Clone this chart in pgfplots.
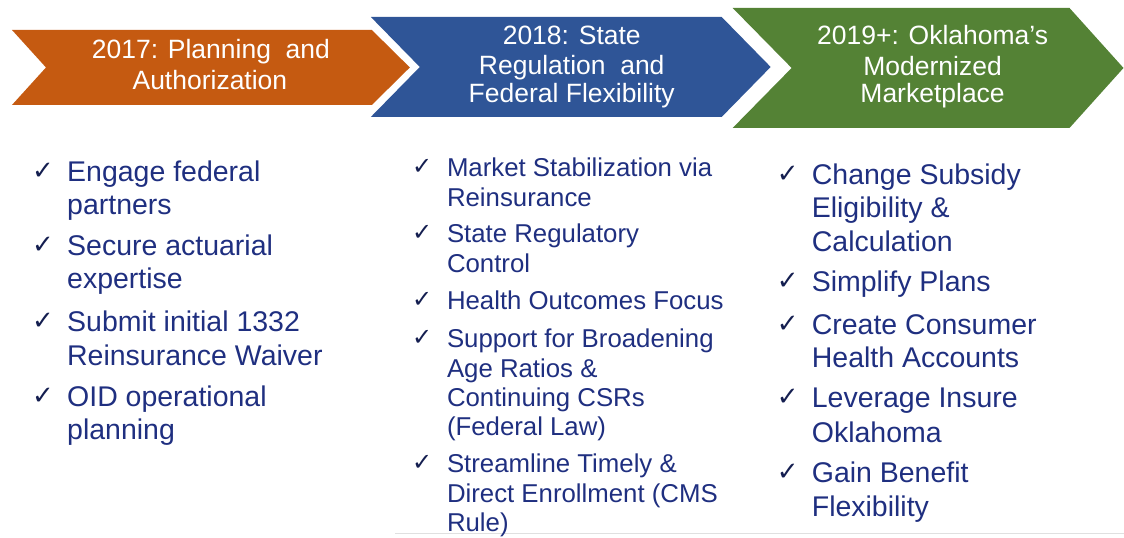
\documentclass[border=0pt]{standalone}
\usepackage{pgfplots}
\pgfplotsset{compat=1.18}
\usepackage{fontspec}
\setmainfont{Liberation Sans}
\newfontfamily\dejavu{DejaVu Sans}
\definecolor{corange}{HTML}{C55A11}
\definecolor{cblue}{HTML}{2F5597}
\definecolor{cgreen}{HTML}{548235}
\definecolor{navy}{HTML}{1F2F80}
\definecolor{chk}{HTML}{141E50}
\newcommand{\ck}{{\dejavu\bfseries ✓}}
\begin{document}
\begin{tikzpicture}
\begin{axis}[width=1124pt,height=536pt,scale only axis,
  xmin=0,xmax=1124,ymin=0,ymax=536,y dir=reverse,hide axis,clip=false]
\addplot[draw=none,fill=none] coordinates {(0,0) (1124,0) (1124,536) (0,536)} --cycle;
% arrows
\addplot[fill=corange,draw=none] coordinates {(12,30) (372,30) (410,67.5) (372,105) (12,105) (46,67.5)} --cycle;
\addplot[fill=cblue,draw=none] coordinates {(371,17) (722,17) (771,67) (722,117) (371,117) (420,67)} --cycle;
\addplot[fill=cgreen,draw=none] coordinates {(733,8) (1070,8) (1124,68) (1070,128) (733,128) (792,68)} --cycle;
\addplot[draw=black!12,line width=1pt] coordinates {(395,534) (1124,534)};
% headers
\begin{scope}[every node/.style={anchor=base,inner sep=0,text=white,font=\fontsize{26.5}{30}\selectfont}]
\node at (axis cs:211,59) {2017: Planning\ \ and};
\node at (axis cs:210,90) {Authorization};
\node at (axis cs:572,45) {2018: State};
\node at (axis cs:572,75) {Regulation\ \ and};
\node at (axis cs:572,103) {Federal Flexibility};
\node at (axis cs:933,45) {2019+: Oklahoma’s};
\node at (axis cs:933,76) {Modernized};
\node at (axis cs:933,103) {Marketplace};
\end{scope}
% column 1
\begin{scope}[every node/.style={anchor=base west,inner sep=0,text=navy,font=\fontsize{28.5}{33}\selectfont}]
\node[text=chk,font=\fontsize{26}{28}\selectfont] at (axis cs:32,180) {\ck};
\node at (axis cs:67,182) {Engage federal};
\node at (axis cs:67,215) {partners};
\node[text=chk,font=\fontsize{26}{28}\selectfont] at (axis cs:32,254) {\ck};
\node at (axis cs:67,256) {Secure actuarial};
\node at (axis cs:67,289) {expertise};
\node[text=chk,font=\fontsize{26}{28}\selectfont] at (axis cs:32,330) {\ck};
\node at (axis cs:67,332) {Submit initial 1332};
\node at (axis cs:67,366) {Reinsurance Waiver};
\node[text=chk,font=\fontsize{26}{28}\selectfont] at (axis cs:32,405) {\ck};
\node at (axis cs:67,407) {OID operational};
\node at (axis cs:67,440) {planning};
\end{scope}
% column 2
\begin{scope}[every node/.style={anchor=base west,inner sep=0,text=navy,font=\fontsize{25.8}{30}\selectfont}]
\node[text=chk,font=\fontsize{24}{26}\selectfont] at (axis cs:412,175) {\ck};
\node at (axis cs:447,177) {Market Stabilization via};
\node at (axis cs:447,207) {Reinsurance};
\node[text=chk,font=\fontsize{24}{26}\selectfont] at (axis cs:412,241) {\ck};
\node at (axis cs:447,243) {State Regulatory};
\node at (axis cs:447,273) {Control};
\node[text=chk,font=\fontsize{24}{26}\selectfont] at (axis cs:412,308) {\ck};
\node at (axis cs:447,310) {Health Outcomes Focus};
\node[text=chk,font=\fontsize{24}{26}\selectfont] at (axis cs:412,346) {\ck};
\node at (axis cs:447,348) {Support for Broadening};
\node at (axis cs:447,378) {Age Ratios \&};
\node at (axis cs:447,407) {Continuing CSRs};
\node at (axis cs:447,436) {(Federal Law)};
\node[text=chk,font=\fontsize{24}{26}\selectfont] at (axis cs:412,471) {\ck};
\node at (axis cs:447,473) {Streamline Timely \&};
\node at (axis cs:447,503) {Direct Enrollment (CMS};
\node at (axis cs:447,532) {Rule)};
\end{scope}
% column 3
\begin{scope}[every node/.style={anchor=base west,inner sep=0,text=navy,font=\fontsize{28.5}{33}\selectfont}]
\node[text=chk,font=\fontsize{26}{28}\selectfont] at (axis cs:777,183) {\ck};
\node at (axis cs:812,185) {Change Subsidy};
\node at (axis cs:812,218) {Eligibility \&};
\node at (axis cs:812,252) {Calculation};
\node[text=chk,font=\fontsize{26}{28}\selectfont] at (axis cs:777,290) {\ck};
\node at (axis cs:812,292) {Simplify Plans};
\node[text=chk,font=\fontsize{26}{28}\selectfont] at (axis cs:777,333) {\ck};
\node at (axis cs:812,335) {Create Consumer};
\node at (axis cs:812,368) {Health Accounts};
\node[text=chk,font=\fontsize{26}{28}\selectfont] at (axis cs:777,406) {\ck};
\node at (axis cs:812,408) {Leverage Insure};
\node at (axis cs:812,443) {Oklahoma};
\node[text=chk,font=\fontsize{26}{28}\selectfont] at (axis cs:777,481) {\ck};
\node at (axis cs:812,483) {Gain Benefit};
\node at (axis cs:812,517) {Flexibility};
\end{scope}
\end{axis}
\end{tikzpicture}
\end{document}
